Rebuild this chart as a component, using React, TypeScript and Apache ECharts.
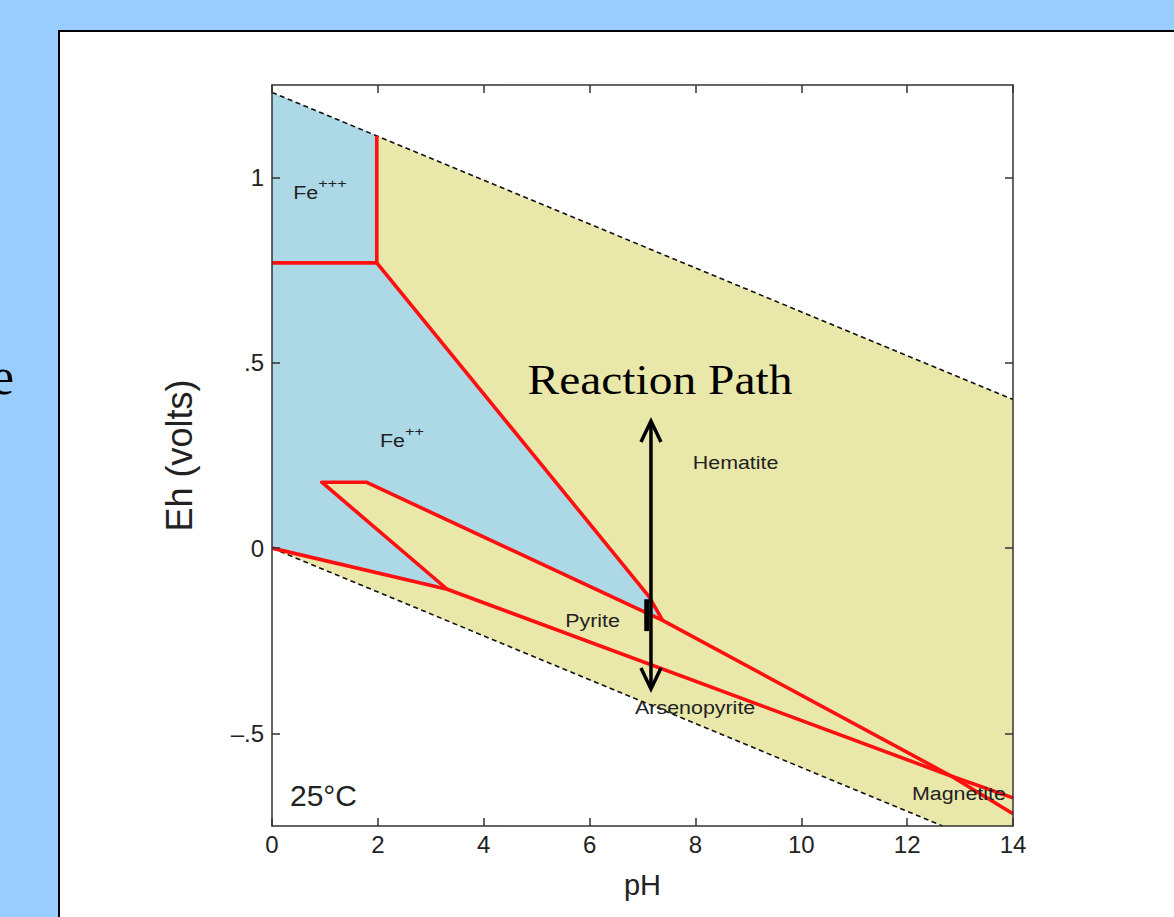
import React, { useEffect, useRef } from 'react';
import * as echarts from 'echarts';

// ---- axis ticks ----
const PH_TICKS = [0, 2, 4, 6, 8, 10, 12, 14];
const EH_TICKS = [-0.5, 0, 0.5, 1];
const EH_TICK_LABELS = ['\u2013.5', '0', '.5', '1'];

// ---- water stability limits (dashed) ----
const UPPER_WATER: number[][] = [[0, 1.23], [14, 0.401]];
const LOWER_WATER: number[][] = [[0, 0.0], [12.67, -0.75]];

// ---- fields ----
const STABILITY_FIELD: number[][] = [[0, 1.23], [14, 0.401], [14, -0.75], [12.67, -0.75], [0, 0]];
const AQUEOUS_FIELD: number[][] = [
  [0, 1.23], [1.98, 1.113], [1.98, 0.77], [7.12, -0.13], [7.38, -0.195],
  [1.78, 0.178], [0.94, 0.178], [3.31, -0.111], [0, 0],
];

// ---- red boundaries ----
const FE3_FE2: number[][] = [[0, 0.77], [1.98, 0.77]];
const FE3_HEM: number[][] = [[1.98, 1.113], [1.98, 0.77]];
const FE2_HEM: number[][] = [[1.98, 0.77], [7.12, -0.13], [7.38, -0.195]];
const PYRITE_UPPER: number[][] = [[3.31, -0.111], [0.94, 0.178], [1.78, 0.178], [7.38, -0.195], [12.83, -0.615], [14, -0.674]];
const PYRITE_LOWER: number[][] = [[0, 0], [3.31, -0.111], [12.83, -0.615], [14, -0.717]];

// ---- reaction path arrow & marker ----
const REACTION_PATH: number[][] = [[7.16, 0.343, -0.38]];
const MARKER: number[][] = [[7.08, -0.138], [7.08, -0.224]];

// ---- labels: text, superscript, pH, Eh ----
const FIELD_LABELS: [string, string, number, number][] = [
  ['Fe', '+++', 0.40, 0.959],
  ['Fe', '++', 2.04, 0.289],
  ['Hematite', '', 7.95, 0.231],
  ['Pyrite', '', 5.54, -0.197],
  ['Arsenopyrite', '', 6.86, -0.43],
  ['Magnetite', '', 12.09, -0.662],
];
const TEMP_LABEL: [string, number, number] = ['25°C', 0.34, -0.667];
const PATH_LABEL: [string, number, number] = ['Reaction Path', 7.33, 0.453];

const SANS = 'Arial, "Liberation Sans", Helvetica, sans-serif';
const SERIF = '"Times New Roman", "Liberation Serif", serif';
const BLUE = '#ADD8E6';
const YELLOW = '#E9E8AA';
const RED = '#FF1010';
const TXT = '#222222';

function polygonSeries(points: number[][], fill: string, z: number) {
  return {
    type: 'custom',
    z,
    silent: true,
    data: points,
    encode: { x: 0, y: 1 },
    renderItem: (params: any, api: any) => {
      if (params.dataIndex !== 0) return null;
      const pts = points.map((p) => api.coord(p));
      return { type: 'polygon', shape: { points: pts }, style: { fill, stroke: null } };
    },
  };
}

function redLine(points: number[][]) {
  return {
    type: 'line',
    z: 4,
    silent: true,
    data: points,
    symbol: 'none',
    lineStyle: { color: RED, width: 3.6, join: 'round' },
  };
}

function dashedLine(points: number[][]) {
  return {
    type: 'line',
    z: 3,
    silent: true,
    data: points,
    symbol: 'none',
    lineStyle: { color: '#111', width: 1.6, type: [5, 3.5] },
  };
}

export default function App() {
  const ref = useRef<HTMLDivElement>(null);

  useEffect(() => {
    if (!ref.current) return;
    const chart = echarts.init(ref.current, null, { renderer: 'svg' });

    const axisCommon = {
      type: 'value',
      z: 10,
      splitLine: { show: false },
      axisLine: { show: true, onZero: false, lineStyle: { color: '#333', width: 1.5 } },
      axisTick: { show: true, inside: true, length: 8, lineStyle: { color: '#333', width: 1.5 } },
    };

    const option: any = {
      animation: false,
      backgroundColor: '#99CCFF',
      graphic: [
        {
          type: 'rect',
          z: -10,
          shape: { x: 59, y: 31, width: 1300, height: 1000 },
          style: { fill: '#FFFFFF', stroke: '#000', lineWidth: 2 },
        },
        {
          type: 'text',
          x: 14,
          y: 376,
          style: { text: 'e', font: `52px ${SERIF}`, fill: '#000', align: 'right', verticalAlign: 'middle' },
        },
      ],
      grid: { left: 272, top: 85, width: 741, height: 741, show: false },
      xAxis: [
        {
          ...axisCommon,
          position: 'bottom',
          min: 0,
          max: 14,
          interval: 2,
          axisLabel: {
            show: true,
            margin: 6,
            fontSize: 24,
            fontFamily: SANS,
            color: TXT,
            customValues: PH_TICKS,
          },
          axisTick: { ...axisCommon.axisTick, customValues: PH_TICKS },
          name: 'pH',
          nameLocation: 'middle',
          nameGap: 44,
          nameTextStyle: { fontSize: 29, fontFamily: SANS, color: TXT },
        },
        {
          ...axisCommon,
          position: 'top',
          min: 0,
          max: 14,
          interval: 2,
          axisLabel: { show: false },
          axisTick: { ...axisCommon.axisTick, customValues: PH_TICKS },
        },
      ],
      yAxis: [
        {
          ...axisCommon,
          position: 'left',
          min: -0.75,
          max: 1.25,
          axisLabel: {
            show: true,
            margin: 8,
            fontSize: 24,
            fontFamily: SANS,
            color: TXT,
            customValues: EH_TICKS,
            formatter: (v: number) => {
              const i = EH_TICKS.findIndex((t) => Math.abs(t - v) < 1e-6);
              return i >= 0 ? EH_TICK_LABELS[i] : '';
            },
          },
          axisTick: { ...axisCommon.axisTick, customValues: EH_TICKS },
          name: 'Eh (volts)',
          nameLocation: 'middle',
          nameRotate: 90,
          nameGap: 75,
          nameTextStyle: { fontSize: 36, fontFamily: SANS, color: TXT },
        },
        {
          ...axisCommon,
          position: 'right',
          min: -0.75,
          max: 1.25,
          axisLabel: { show: false },
          axisTick: { ...axisCommon.axisTick, customValues: EH_TICKS },
        },
      ],
      series: [
        polygonSeries(STABILITY_FIELD, YELLOW, 1),
        polygonSeries(AQUEOUS_FIELD, BLUE, 2),
        dashedLine(UPPER_WATER),
        dashedLine(LOWER_WATER),
        redLine(FE3_FE2),
        redLine(FE3_HEM),
        redLine(FE2_HEM),
        redLine(PYRITE_UPPER),
        redLine(PYRITE_LOWER),
        {
          type: 'line',
          z: 5,
          silent: true,
          data: MARKER,
          symbol: 'none',
          lineStyle: { color: '#000', width: 5 },
        },
        {
          type: 'custom',
          z: 6,
          silent: true,
          data: REACTION_PATH,
          encode: { x: 0, y: [1, 2] },
          renderItem: (params: any, api: any) => {
            const x = api.value(0);
            const top = api.coord([x, api.value(1)]);
            const bot = api.coord([x, api.value(2)]);
            const st = { stroke: '#000', lineWidth: 3.5, fill: null, lineJoin: 'miter' };
            return {
              type: 'group',
              children: [
                { type: 'line', shape: { x1: top[0], y1: top[1] + 1, x2: bot[0], y2: bot[1] - 1 }, style: st },
                {
                  type: 'polyline',
                  shape: { points: [[top[0] - 10, top[1] + 21], [top[0], top[1]], [top[0] + 10, top[1] + 21]] },
                  style: st,
                },
                {
                  type: 'polyline',
                  shape: { points: [[bot[0] - 10, bot[1] - 21], [bot[0], bot[1]], [bot[0] + 10, bot[1] - 21]] },
                  style: st,
                },
              ],
            };
          },
        },
        {
          type: 'custom',
          z: 7,
          silent: true,
          data: FIELD_LABELS.map((l) => [l[2], l[3]]),
          encode: { x: 0, y: 1 },
          renderItem: (params: any, api: any) => {
            const l = FIELD_LABELS[params.dataIndex];
            const p = api.coord([api.value(0), api.value(1)]);
            const children: any[] = [
              {
                type: 'text',
                x: p[0],
                y: p[1],
                scaleX: 1.19,
                style: { text: l[0], font: `18px ${SANS}`, fill: TXT, align: 'left', verticalAlign: 'middle' },
              },
            ];
            if (l[1]) {
              children.push({
                type: 'text',
                x: p[0] + 25,
                y: p[1] - 9,
                scaleX: 1.25,
                style: { text: l[1], font: `13px ${SANS}`, fill: TXT, align: 'left', verticalAlign: 'middle' },
              });
            }
            return { type: 'group', children };
          },
        },
        {
          type: 'custom',
          z: 7,
          silent: true,
          data: [[TEMP_LABEL[1], TEMP_LABEL[2]]],
          encode: { x: 0, y: 1 },
          renderItem: (params: any, api: any) => {
            const p = api.coord([api.value(0), api.value(1)]);
            return {
              type: 'text',
              x: p[0],
              y: p[1],
              style: { text: TEMP_LABEL[0], font: `30px ${SANS}`, fill: TXT, align: 'left', verticalAlign: 'middle' },
            };
          },
        },
        {
          type: 'custom',
          z: 7,
          silent: true,
          data: [[PATH_LABEL[1], PATH_LABEL[2]]],
          encode: { x: 0, y: 1 },
          renderItem: (params: any, api: any) => {
            const p = api.coord([api.value(0), api.value(1)]);
            return {
              type: 'text',
              x: p[0],
              y: p[1],
              scaleX: 1.13,
              style: { text: PATH_LABEL[0], font: `42px ${SERIF}`, fill: '#000', align: 'center', verticalAlign: 'middle' },
            };
          },
        },
      ],
    };

    chart.setOption(option);
    return () => chart.dispose();
  }, []);

  return <div ref={ref} style={{ position: 'fixed', left: 0, top: 0, width: 1174, height: 917 }} />;
}
